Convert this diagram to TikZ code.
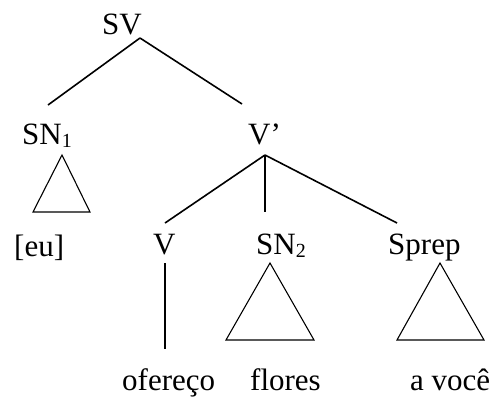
\documentclass[tikz,border=0pt]{standalone}
\usepackage{fontspec}
\setmainfont{Liberation Serif}
\newcommand{\subnum}[1]{\raisebox{-3pt}{\fontsize{20}{20}\selectfont #1}}
\begin{document}
\begin{tikzpicture}[x=1pt,y=-1pt,
  lbl/.style={anchor=base west,inner sep=0pt,font=\fontsize{31}{31}\selectfont},
  branch/.style={line width=1.6pt},
  roof/.style={line width=1.1pt,line join=miter}]
\useasboundingbox[fill=white] (0,0) rectangle (495,399);
% labels
\node[lbl] (sv) at (102,34) {SV};
\node[lbl] (sn1) at (22,144) {SN\subnum{1}};
\node[lbl] (vbar) at (248,144) {V’};
\node[lbl] (eu) at (14,256) {[eu]};
\node[lbl] (v) at (153,254) {V};
\node[lbl] (sn2) at (256,254) {SN\subnum{2}};
\node[lbl] (sprep) at (388,254) {Sprep};
\node[lbl] (ofereco) at (122,390) {ofereço};
\node[lbl] (flores) at (250,390) {flores};
\node[lbl] (avoce) at (410,390) {a você};
% connector ends
\coordinate (sv-f) at (140,38);
\coordinate (sn1-h) at (48,105);
\coordinate (vbar-h) at (242,104);
\coordinate (vbar-f) at (265,155);
\coordinate (v-h) at (165,223);
\coordinate (sn2-h) at (265,212);
\coordinate (sprep-h) at (397,223);
\coordinate (v-f) at (165,263);
\coordinate (ofereco-h) at (165,349);
% branches
\draw[branch] (sv-f) -- (sn1-h);
\draw[branch] (sv-f) -- (vbar-h);
\draw[branch] (vbar-f) -- (v-h);
\draw[branch] (vbar-f) -- (sn2-h);
\draw[branch] (vbar-f) -- (sprep-h);
\draw[branch] (v-f) -- (ofereco-h);
% roofs
\draw[roof] (62,155) -- (33,212) -- (90,212) -- cycle;
\draw[roof] (270,263) -- (226,340) -- (314,340) -- cycle;
\draw[roof] (440,263) -- (397,340) -- (484,340) -- cycle;
\end{tikzpicture}
\end{document}
